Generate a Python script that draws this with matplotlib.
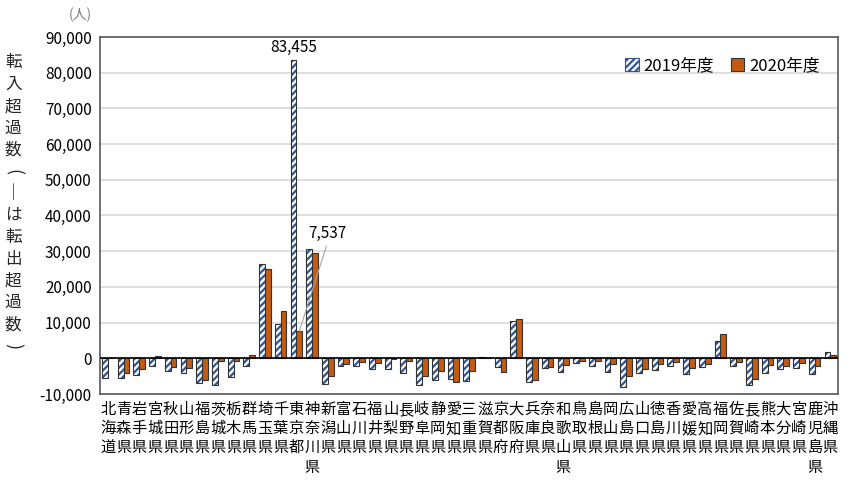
import matplotlib
matplotlib.use("Agg")
import matplotlib.pyplot as plt
from matplotlib.patches import Patch
import numpy as np

plt.rcParams['font.family'] = ['Noto Sans CJK JP', 'DejaVu Sans']
plt.rcParams['hatch.linewidth'] = 1.6

# 都道府県と転入超過数（人）
prefs = ["北海道", "青森県", "岩手県", "宮城県", "秋田県", "山形県", "福島県",
         "茨城県", "栃木県", "群馬県", "埼玉県", "千葉県", "東京都", "神奈川県",
         "新潟県", "富山県", "石川県", "福井県", "山梨県", "長野県", "岐阜県",
         "静岡県", "愛知県", "三重県", "滋賀県", "京都府", "大阪府", "兵庫県",
         "奈良県", "和歌山県", "鳥取県", "島根県", "岡山県", "広島県", "山口県",
         "徳島県", "香川県", "愛媛県", "高知県", "福岡県", "佐賀県", "長崎県",
         "熊本県", "大分県", "宮崎県", "鹿児島県", "沖縄県"]
v2019 = [-5500, -5600, -4700, -2150, -3650, -4200, -7000,
         -7400, -5200, -2300, 26350, 9700, 83455, 30560,
         -7300, -2200, -2240, -3100, -3100, -4200, -7400,
         -6200, -5700, -6450, 300, -2430, 10470, -6730,
         -2710, -3930, -1300, -2240, -3930, -8130, -4110,
         -3360, -2240, -4300, -2520, 4950, -2240, -7570,
         -4200, -3080, -2800, -4390, 1680]
v2020 = [200, -4000, -3000, 560, -2500, -2700, -6100,
         -840, -750, 930, 25050, 13360, 7537, 29440,
         -5050, -1500, -1000, -1200, -300, -650, -5050,
         -3650, -6650, -3550, 150, -3740, 10930, -5980,
         -2430, -1960, -750, -840, -1680, -5050, -3080,
         -1680, -1120, -2620, -1590, 6820, -1120, -5800,
         -1780, -2240, -1400, -2240, 1030]
y_ticks = list(range(-10000, 90001, 10000))

fig = plt.figure(figsize=(8.51, 4.83), dpi=100)
ax = fig.add_axes([0.1175, 0.1843, 0.8675, 0.7391])

x = np.arange(len(prefs))
w = 0.37
# 2019年度: 青の斜線（ハッチ）+ 濃い枠線
ax.bar(x - w / 2, v2019, w, color='white', edgecolor='#2F5597', hatch='/////',
       linewidth=0, zorder=3)
ax.bar(x - w / 2, v2019, w, fill=False, edgecolor='#333333', linewidth=0.8,
       zorder=3)
ax.bar(x + w / 2, v2020, w, color='#C55A11', edgecolor='#333333',
       linewidth=0.8, zorder=3)

ax.set_xlim(-0.5, len(prefs) - 0.5)
ax.set_ylim(-10000, 90000)
ax.set_yticks(y_ticks)
ax.set_yticklabels([f"{t:,}" for t in y_ticks], fontsize=11)
ax.yaxis.grid(True, color='#D9D9D9', linewidth=1.2, zorder=0)
ax.axhline(0, color='black', linewidth=1.2, zorder=4)
ax.tick_params(axis='both', length=0, pad=6)
for s in ax.spines.values():
    s.set_color('#595959')
    s.set_linewidth(1.2)

ax.set_xticks(x)
ax.set_xticklabels(["\n".join(p) for p in prefs], fontsize=11, linespacing=1.17,
                   va='top')
ax.tick_params(axis='x', pad=5)

# データラベル
i_tokyo = prefs.index("東京都")
ax.text(i_tokyo - w / 2, v2019[i_tokyo] + 1200, f"{v2019[i_tokyo]:,}",
        ha='center', va='bottom', fontsize=11)
ax.annotate(f"{v2020[i_tokyo]:,}", xy=(i_tokyo + w / 2, v2020[i_tokyo]),
            xytext=(i_tokyo + 2.0, 35000), ha='center', va='center', fontsize=11,
            arrowprops=dict(arrowstyle='-', color='#A6A6A6', lw=0.8,
                            relpos=(0.5, 0), shrinkA=1, shrinkB=0))

# 凡例
handles = [Patch(facecolor='white', edgecolor='#2F5597', hatch='/////',
                 linewidth=0.8),
           Patch(facecolor='#C55A11', edgecolor='#333333', linewidth=0.8)]
ax.legend(handles, ['2019年度', '2020年度'], loc='upper right',
          bbox_to_anchor=(0.995, 0.985), ncol=2, frameon=False,
          fontsize=12, handlelength=0.8, handleheight=0.8, handletextpad=0.3,
          columnspacing=1.0)

# 縦書きの軸タイトル（括弧は横向き、長音は縦線）
ylab = ["転", "入", "超", "過", "数", "(", "｜", "は", "転", "出", "超", "過", "数", ")"]
for k, ch in enumerate(ylab):
    yp = 63 + k * 21.8
    if ch in "()":
        fig.text(0.0155, 1 - yp / 483, ch, ha='center', va='center',
                 fontsize=13, rotation=-90, rotation_mode='anchor',
                 color='#262626')
    else:
        fig.text(0.0155, 1 - yp / 483, ch, ha='center', va='center',
                 fontsize=12, color='#262626')
fig.text(0.094, 0.97, "(人)", ha='center', va='center', fontsize=10,
         color='#7F7F7F')

fig.savefig("out.png", dpi=100)
